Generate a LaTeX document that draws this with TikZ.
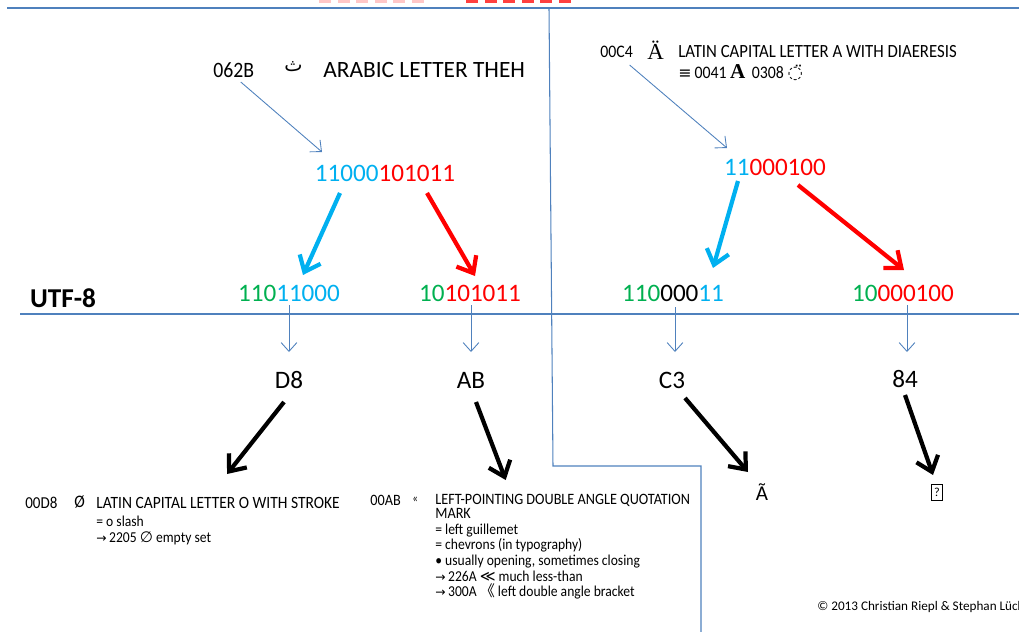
\documentclass[tikz,border=0pt]{standalone}
\usepackage{fontspec}
\setmainfont{Carlito}
\newfontfamily\arabicfont[Script=Arabic]{DejaVu Sans}
\newfontfamily\symfont{DejaVu Sans}
\newfontfamily\cjkfont{Noto Sans CJK SC}
\newfontfamily\seriffont{Liberation Serif}
\newfontfamily\chartfont[FakeStretch=0.9]{Carlito}
\TeXXeTstate=1
\usetikzlibrary{arrows.meta, positioning, calc}
\definecolor{linblue}{RGB}{79,129,189}
\definecolor{bitcyan}{RGB}{0,176,240}
\definecolor{bitgreen}{RGB}{0,176,80}
\definecolor{bitred}{RGB}{255,0,0}

\begin{document}
\begin{tikzpicture}[x=0.02cm, y=-0.02cm,
        bits/.style={inner sep=0pt, font=\fontsize{14.3}{16}\selectfont},
        code/.style={inner sep=0pt, anchor=west, font=\chartfont\fontsize{12.5}{14}\selectfont},
        chart/.style={inner sep=0pt, anchor=west, font=\chartfont\fontsize{10}{12}\selectfont},
        small/.style={inner sep=0pt, anchor=north west, align=left,
                      font=\chartfont\fontsize{8.6}{8.9}\selectfont},
        frame/.style={linblue, line width=0.6pt},
        thinarr/.style={-{Straight Barb[length=5pt,width=9pt]}, linblue, line width=0.5pt},
        fatarr/.style={-{Straight Barb[length=8pt,width=13pt]}, line width=2.4pt}]
      \useasboundingbox (0,0) rectangle (1019,632);
      % frame lines
      \draw[frame] (7,8) -- (1019,8);
      \draw[frame] (549,8) -- (553,466) -- (701,466) -- (701,632);
      \draw[frame] (20,314) -- (1019,314);
      \foreach \i in {0,...,5} {
        \fill[red!22] (319+\i*18.5,0) rectangle ++(12,3);
        \fill[red!75] (466+\i*18.5,0) rectangle ++(12,3);
      }
      \node[inner sep=0pt, font=\bfseries\fontsize{15.5}{17}\selectfont] (utf) at (63,298) {UTF-8};

      % left: arabic letter theh
      \node[code] (cpA) at (213,70) {062B};
      \node[code, font=\arabicfont\fontsize{11}{13}\selectfont] (chA) at (284,67) {\beginR ث\endR};
      \node[code, font=\fontsize{13.3}{15}\selectfont] (nmA) at (323,70) {ARABIC LETTER THEH};
      \node[bits] (binA) at (385,173) {\textcolor{bitcyan}{11000}\textcolor{bitred}{101011}};
      \node[bits] (utfA1) at (289,293) {\textcolor{bitgreen}{110}\textcolor{bitcyan}{11000}};
      \node[bits] (utfA2) at (470,293) {\textcolor{bitgreen}{10}\textcolor{bitred}{101011}};
      \node[bits] (hxA1) at (289,380) {D8};
      \node[bits] (hxA2) at (471,380) {AB};
      \node[chart, font=\chartfont\fontsize{9.5}{11}\selectfont] (cpO) at (25,503) {00D8};
      \node[chart] (chO) at (74,502) {Ø};
      \node[chart, font=\chartfont\fontsize{9.8}{12}\selectfont] (nmO) at (96,503) {LATIN CAPITAL LETTER O WITH STROKE};
      \node[small] (dsO) at (96,516) {= o slash\\{\symfont\scriptsize →}\,2205 {\symfont ∅} empty set};
      \node[chart, font=\chartfont\fontsize{9}{11}\selectfont] (cpB) at (370,500) {00AB};
      \node[chart] (chB) at (412,500) {\scriptsize«};
      \node[chart, font=\chartfont\fontsize{9}{11}\selectfont] (nmB) at (435,500) {LEFT-POINTING DOUBLE ANGLE QUOTATION};
      \node[small] (dsB) at (435,508) {{\fontsize{9}{8.9}\selectfont MARK}\\= left guillemet\\= chevrons (in typography)\\
        • usually opening, sometimes closing\\{\symfont\scriptsize →}\,226A {\symfont ≪} much less-than\\
        {\symfont\scriptsize →}\,300A {\cjkfont 《} left double angle bracket};

      \draw[thinarr] ($(cpA)+(7,12)$) -- ($(binA)+(-63,-21)$);
      \draw[fatarr, bitcyan] ($(binA)+(-45,20)$) -- ($(utfA1)+(14,-18)$);
      \draw[fatarr, bitred] ($(binA)+(42,20)$) -- ($(utfA2)+(5,-17)$);
      \draw[thinarr] ($(utfA1)+(0,12)$) -- ($(hxA1)+(0,-28)$);
      \draw[thinarr] ($(utfA2)+(1,12)$) -- ($(hxA2)+(0,-28)$);
      \draw[fatarr] ($(hxA1)+(-5,22)$) -- ($(nmO)+(9,-29)$);
      \draw[fatarr] ($(hxA2)+(5,22)$) -- ($(nmB)+(-57,-20)$);

      % right: latin capital letter a with diaeresis
      \node[chart] (cpC) at (600,52) {00C4};
      \node[chart, font=\seriffont\fontsize{13}{15}\selectfont] (chC) at (647,50) {Ä};
      \node[chart, font=\chartfont\fontsize{10.6}{12}\selectfont] (nmC) at (678,52) {LATIN CAPITAL LETTER A WITH DIAERESIS};
      \node[chart] (dsC) at (678,73) {{\symfont\small ≡}\,0041 {\seriffont\bfseries\large A}\, 0308 {\symfont ◌̈}};
      \node[bits] (binC) at (775,167) {\textcolor{bitcyan}{11}\textcolor{bitred}{000100}};
      \node[bits] (utfC1) at (673,293) {\textcolor{bitgreen}{110}000\textcolor{bitcyan}{11}};
      \node[bits] (utfC2) at (903,293) {\textcolor{bitgreen}{10}\textcolor{bitred}{000100}};
      \node[bits] (hxC1) at (672,380) {C3};
      \node[bits] (hxC2) at (905,379) {84};
      \node[bits, font=\fontsize{12}{14}\selectfont] (glC1) at (762,492) {Ã};
      \node[draw, line width=0.4pt, inner sep=0.5pt, minimum width=6.5pt, minimum height=9pt,
            font=\fontsize{7}{8}\selectfont] (glC2) at (937,492) {?};

      \draw[thinarr] ($(cpC)+(13,13)$) -- ($(binC)+(-48,-19)$);
      \draw[fatarr, bitcyan] ($(binC)+(-37,14)$) -- ($(utfC1)+(40,-25)$);
      \draw[fatarr, bitred] ($(binC)+(23,18)$) -- ($(utfC2)+(1,-23)$);
      \draw[thinarr] ($(utfC1)+(2,14)$) -- ($(hxC1)+(3,-28)$);
      \draw[thinarr] ($(utfC2)+(4,12)$) -- ($(hxC2)+(2,-27)$);
      \draw[fatarr] ($(hxC1)+(13,18)$) -- ($(glC1)+(-14,-20)$);
      \draw[fatarr] ($(hxC2)+(0,16)$) -- ($(glC2)+(-4,-17)$);

      \node[inner sep=0pt, anchor=west, font=\fontsize{7.5}{9}\selectfont] (copy) at (817,607)
        {© 2013 Christian Riepl \& Stephan Lück};
    \end{tikzpicture}
\end{document}
